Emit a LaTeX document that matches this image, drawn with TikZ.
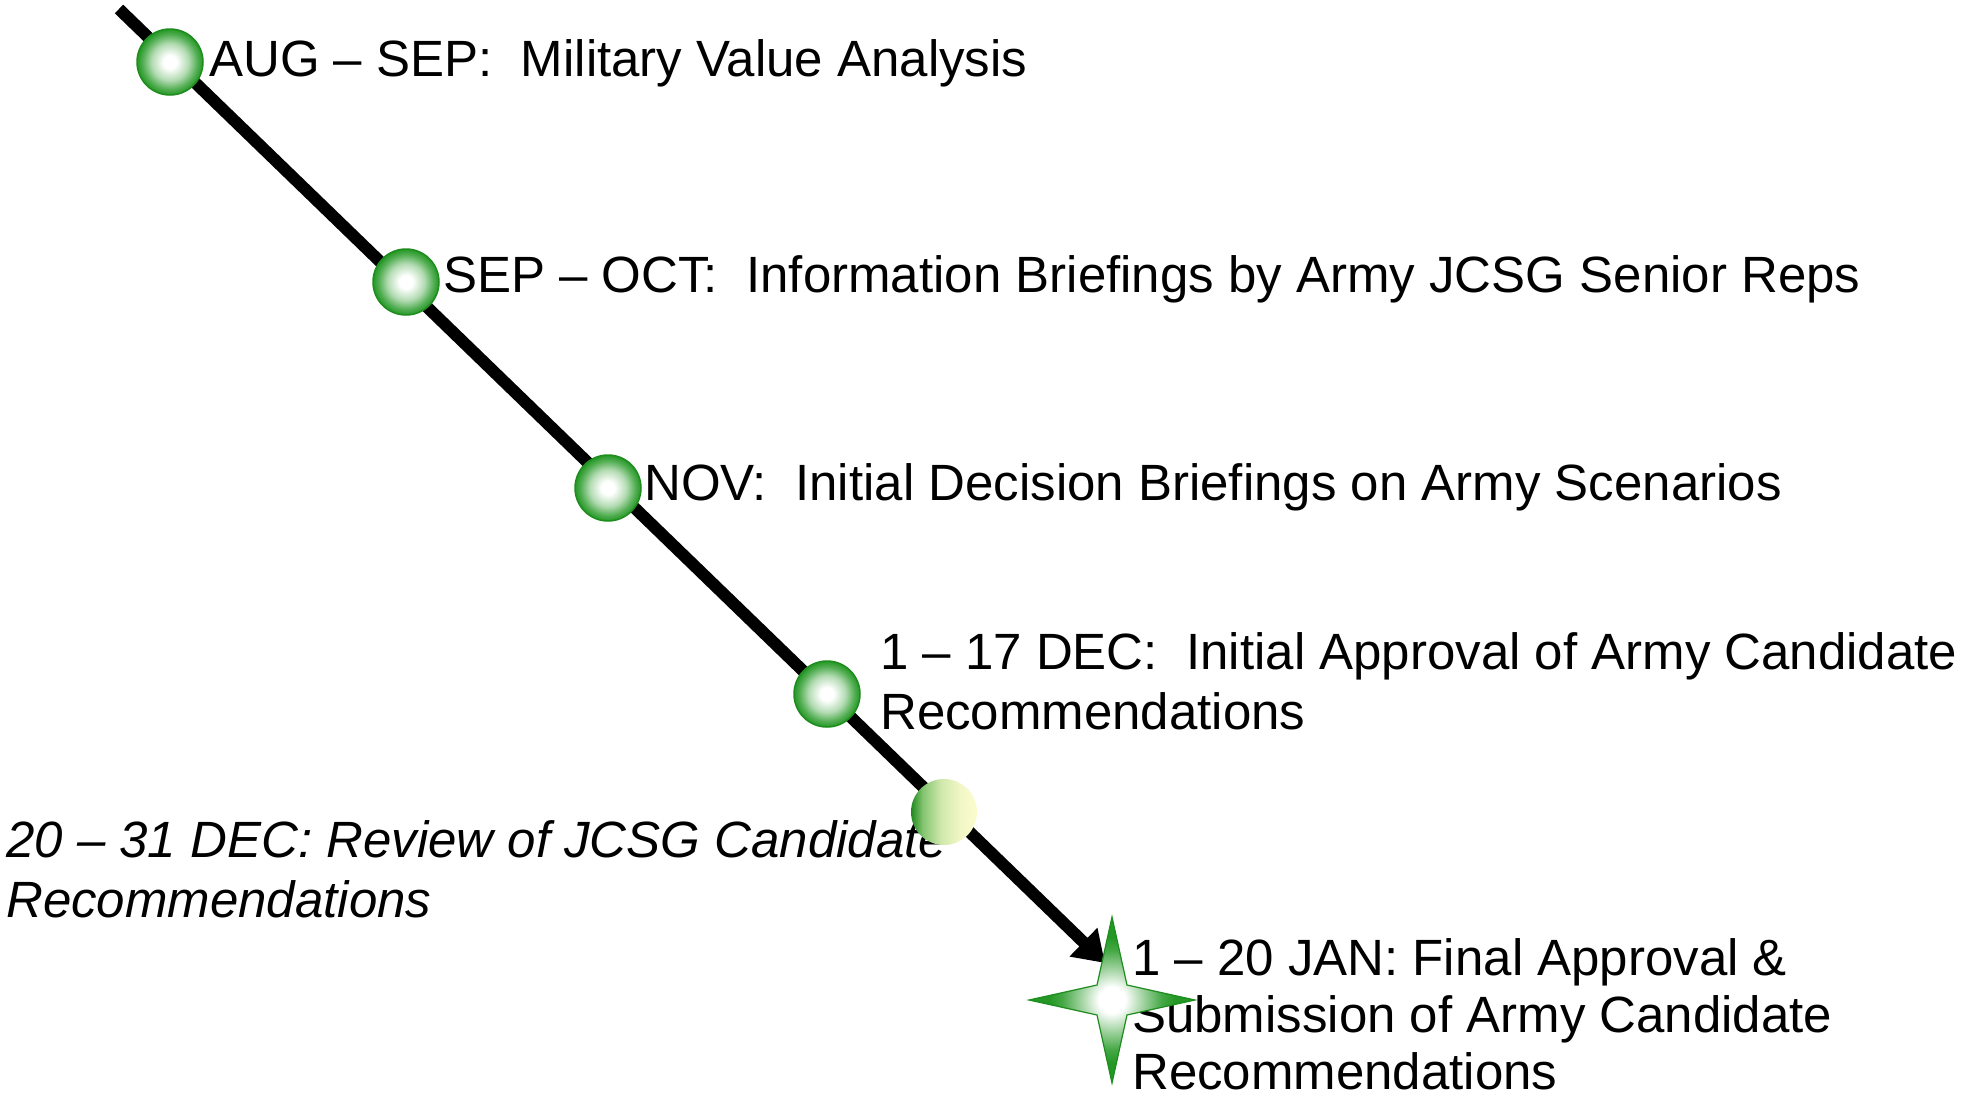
\documentclass[tikz,border=0pt]{standalone}
\usepackage{fontspec}
\setmainfont{Liberation Sans}
\usetikzlibrary{arrows.meta}
\frenchspacing

\definecolor{ballgreen}{RGB}{36,152,36}
\definecolor{rimgreen}{RGB}{30,140,30}
\definecolor{paleyellow}{RGB}{252,252,206}

% white core fading to green at the rim
\pgfdeclareradialshading{ballshade}{\pgfpoint{0bp}{0bp}}{%
  color(0bp)=(white); color(5bp)=(white);
  color(14bp)=(ballgreen!35!white); color(21bp)=(ballgreen!80!white);
  color(25bp)=(ballgreen); color(50bp)=(ballgreen)}
\pgfdeclareradialshading{starshade}{\pgfpoint{0bp}{0bp}}{%
  color(0bp)=(white); color(4bp)=(white);
  color(9bp)=(ballgreen!40!white); color(15bp)=(ballgreen!85!white);
  color(19bp)=(ballgreen); color(50bp)=(ballgreen)}
% green on the left, pale yellow on the right
\pgfdeclarehorizontalshading{pendingshade}{100bp}{%
  color(0bp)=(ballgreen!90!black); color(25bp)=(ballgreen!90!black);
  color(34bp)=(ballgreen!55!paleyellow); color(48bp)=(ballgreen!20!paleyellow);
  color(62bp)=(ballgreen!5!paleyellow); color(75bp)=(paleyellow);
  color(100bp)=(paleyellow)}

\tikzset{
  ball/.style={circle, minimum size=66pt, inner sep=0pt,
    draw=rimgreen, line width=1.5pt, shading=ballshade},
  pendingball/.style={circle, minimum size=66pt, inner sep=0pt,
    shading=pendingshade},
  stepnote/.style={anchor=base west, inner sep=0pt, align=left,
    font=\fontsize{51}{60}\selectfont},
  trackline/.style={line width=12pt, line cap=butt,
    -{Triangle[length=30pt,width=38pt]}},
  goalstar/.style={draw=rimgreen, line width=1.2pt, shading=starshade}
}

\begin{document}
\begin{tikzpicture}[x=1pt, y=-1pt]
  \useasboundingbox (0,0) rectangle (1966,1098);

  % the timeline track
  \coordinate (start) at (119,9);
  \coordinate (tip) at (1105,963);
  \draw[trackline] (start) -- (tip);

  % milestone texts (base anchor sits on the last line of each block)
  \node[stepnote] (t1) at (209,76) {AUG – SEP:\ \ Military Value Analysis};
  \node[stepnote] (t2) at (443,292) {SEP – OCT:\ \ Information Briefings by Army JCSG Senior Reps};
  \node[stepnote] (t3) at (644,500) {NOV:\ \ Initial Decision Briefings on Army Scenarios};
  \node[stepnote] (t4) at (880,729) {1 – 17 DEC:\ \ Initial Approval of Army Candidate\\Recommendations};
  \node[stepnote, font=\fontsize{51}{60}\selectfont\itshape] (t5) at (6,917)
    {20 – 31 DEC: Review of JCSG Candidate\\Recommendations};
  \node[stepnote, font=\fontsize{51}{57}\selectfont] (t6) at (1132,1089)
    {1 – 20 JAN: Final Approval \&\\Submission of Army Candidate\\Recommendations};

  % milestone markers on the track
  \node[ball] (m1) at (170,62) {};
  \node[ball] (m2) at (406,282) {};
  \node[ball] (m3) at (608,488) {};
  \node[ball] (m4) at (827,694) {};
  \node[pendingball] (m5) at (944,812) {};

  % final milestone star
  \begin{scope}[shift={(1112,1000)}]
    \path[goalstar] (0,-83) -- (15,-15) -- (83,0) -- (15,15)
      -- (0,83) -- (-15,15) -- (-83,0) -- (-15,-15) -- cycle;
  \end{scope}
\end{tikzpicture}
\end{document}
